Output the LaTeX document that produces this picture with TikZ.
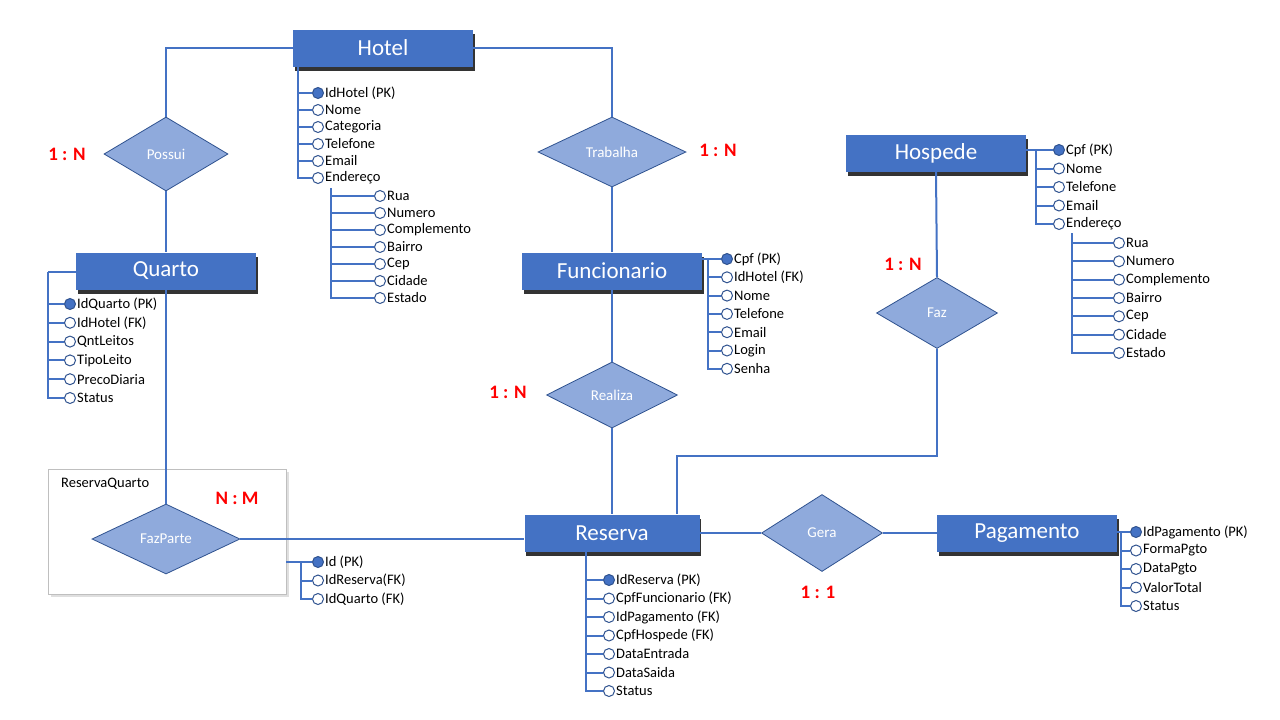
\documentclass[tikz,border=0pt]{standalone}
\usepackage{fontspec}
\setmainfont{Carlito}
\usetikzlibrary{shapes.geometric,shadows}
\definecolor{entblue}{HTML}{4472C4}
\definecolor{relblue}{HTML}{8FAADC}
\definecolor{darkblue}{HTML}{2F528F}
\begin{document}
\begin{tikzpicture}[x=1pt,y=-1pt,label distance=0pt,
    entity/.style={fill=entblue,text=white,minimum width=180pt,minimum height=37pt,inner sep=0pt,
      font=\fontsize{23}{26}\selectfont,
      drop shadow={shadow xshift=1.5pt,shadow yshift=-4pt,opacity=.8,fill=black}},
    relacao/.style={diamond,draw=darkblue,line width=.8pt,fill=relblue,text=white,inner sep=0pt,
      font=\fontsize{15}{17}\selectfont},
    attr/.style={circle,draw=darkblue,line width=1pt,minimum size=11pt,inner sep=0pt},
    attrlbl/.style={font=\fontsize{14.5}{16}\selectfont,inner sep=1pt},
    link/.style={draw=entblue,line width=2pt},
    card/.style={text=red,font=\bfseries\fontsize{19}{21}\selectfont}]
  \useasboundingbox (0,0) rectangle (1280,720);

  % tabela associativa
  \node[draw=black!25,fill=white,minimum width=238pt,minimum height=125pt,
    drop shadow={shadow xshift=3pt,shadow yshift=-3pt,opacity=.25}] (rqbox) at (167,531.5) {};
  \node[attrlbl,anchor=west] (rqname) at (60,484) {\fontsize{14.5}{16}\selectfont ReservaQuarto};

  % entidades
  \node[entity] (hotel) at (383,48) {Hotel};
  \node[entity] (quarto) at (166,271) {Quarto};
  \node[entity] (funcionario) at (612,271) {Funcionario};
  \node[entity] (hospede) at (936,153.5) {Hospede};
  \node[entity,minimum width=175pt] (reserva) at (612,533) {Reserva};
  \node[entity] (pagamento) at (1027,533) {Pagamento};

  % relacionamentos
  \node[relacao,minimum width=124pt,minimum height=74pt] (possui) at (166,154) {Possui};
  \node[relacao,minimum width=148pt,minimum height=70pt] (trabalha) at (612,152) {Trabalha};
  \node[relacao,minimum width=131pt,minimum height=66pt] (realiza) at (612,395) {Realiza};
  \node[relacao,minimum width=121pt,minimum height=71pt] (faz) at (937,313) {Faz};
  \node[relacao,minimum width=148pt,minimum height=70pt] (fazparte) at (166,539) {FazParte};
  \node[relacao,minimum width=121pt,minimum height=77pt] (gera) at (822,533) {Gera};

  % ligacoes
  \path[link] (hotel.west) -| (possui.north);
  \path[link] (possui.south) -- (quarto.north);
  \path[link] (hotel.east) -| (trabalha.north);
  \path[link] (trabalha.south) -- (funcionario.north);
  \path[link] (funcionario.south) -- (realiza.north);
  \path[link] (realiza.south) -- (reserva.north);
  \path[link] (hospede.south) -- (faz.north);
  \coordinate (fazturn) at (677,456);
  \path[link] (faz.south) |- (fazturn) -- (fazturn |- reserva.north);
  \path[link] (quarto.south) -- (fazparte.north);
  \path[link] (fazparte.east) -- (fazparte.east -| reserva.west);
  \path[link] (reserva.east) -- (gera.west);
  \path[link] (gera.east) -- (pagamento.west);

  % cardinalidades
  \node[card] (c1) at (67,154) {1 : N};
  \node[card] (c2) at (718,150) {1 : N};
  \node[card] (c3) at (903,264) {1 : N};
  \node[card] (c4) at (508,392) {1 : N};
  \node[card] (c5) at (237,498) {N : M};
  \node[card] (c6) at (818,592) {1 : 1};

  % atributos Hotel
  \coordinate (hroot) at (298,67);
  \foreach \t [count=\i] in {IdHotel (PK),Nome,Categoria,Telefone,Email,Endereço} {
    \ifnum\i=1 \def\c{entblue}\else\def\c{white}\fi
    \node[attr,fill=\c,label={[attrlbl]right:\t}] (ha\i) at (318,{93+17*(\i-1)}) {};
    \path[link] (hroot) |- (ha\i);
  }
  \coordinate (heroot) at (331,188);
  \foreach \t [count=\i] in {Rua,Numero,Complemento,Bairro,Cep,Cidade,Estado} {
    \node[attr,fill=white,label={[attrlbl]right:\t}] (hea\i) at (380,{196+17*(\i-1)}) {};
    \path[link] (heroot) |- (hea\i);
  }

  % atributos Quarto
  \coordinate (qroot) at (48,272);
  \path[link] (quarto.west |- qroot) -- (qroot);
  \foreach \t [count=\i] in {IdQuarto (PK),IdHotel (FK),QntLeitos,TipoLeito,PrecoDiaria,Status} {
    \ifnum\i=1 \def\c{entblue}\else\def\c{white}\fi
    \node[attr,fill=\c,label={[attrlbl]right:\t}] (qa\i) at (70,{304+18.8*(\i-1)}) {};
    \path[link] (qroot) |- (qa\i);
  }

  % atributos ReservaQuarto
  \coordinate (rqroot) at (301,562);
  \path[link] (rqbox.east |- rqroot) -- (rqroot);
  \foreach \t [count=\i] in {Id (PK),IdReserva(FK),IdQuarto (FK)} {
    \ifnum\i=1 \def\c{entblue}\else\def\c{white}\fi
    \node[attr,fill=\c,label={[attrlbl]right:\t}] (rqa\i) at (318,{562+18.5*(\i-1)}) {};
    \path[link] (rqroot) |- (rqa\i);
  }

  % atributos Funcionario
  \coordinate (froot) at (708,259);
  \path[link] (funcionario.east |- froot) -- (froot);
  \foreach \t [count=\i] in {Cpf (PK),IdHotel (FK),Nome,Telefone,Email,Login,Senha} {
    \ifnum\i=1 \def\c{entblue}\else\def\c{white}\fi
    \node[attr,fill=\c,label={[attrlbl]right:\t}] (fa\i) at (727,{259+18.3*(\i-1)}) {};
    \path[link] (froot) |- (fa\i);
  }

  % atributos Hospede
  \coordinate (hsroot) at (1036,150);
  \path[link] (hospede.east |- hsroot) -- (hsroot);
  \foreach \t [count=\i] in {Cpf (PK),Nome,Telefone,Email,Endereço} {
    \ifnum\i=1 \def\c{entblue}\else\def\c{white}\fi
    \node[attr,fill=\c,label={[attrlbl]right:\t}] (hsa\i) at (1059,{150+18.5*(\i-1)}) {};
    \path[link] (hsroot) |- (hsa\i);
  }
  \coordinate (hseroot) at (1072,233);
  \foreach \t [count=\i] in {Rua,Numero,Complemento,Bairro,Cep,Cidade,Estado} {
    \node[attr,fill=white,label={[attrlbl]right:\t}] (hsea\i) at (1119,{243+18.33*(\i-1)}) {};
    \path[link] (hseroot) |- (hsea\i);
  }

  % atributos Reserva
  \coordinate (rroot) at (586,552);
  \foreach \t [count=\i] in {IdReserva (PK),CpfFuncionario (FK),IdPagamento (FK),CpfHospede (FK),DataEntrada,DataSaida,Status} {
    \ifnum\i=1 \def\c{entblue}\else\def\c{white}\fi
    \node[attr,fill=\c,label={[attrlbl]right:\t}] (ra\i) at (609,{580+18.5*(\i-1)}) {};
    \path[link] (rroot) |- (ra\i);
  }

  % atributos Pagamento
  \coordinate (proot) at (1121,532);
  \path[link] (pagamento.east |- proot) -- (proot);
  \foreach \t [count=\i] in {IdPagamento (PK),FormaPgto,DataPgto,ValorTotal,Status} {
    \ifnum\i=1 \def\c{entblue}\else\def\c{white}\fi
    \node[attr,fill=\c,label={[attrlbl]right:\t}] (pa\i) at (1136,{532+18.5*(\i-1)}) {};
    \path[link] (proot) |- (pa\i);
  }
\end{tikzpicture}
\end{document}
